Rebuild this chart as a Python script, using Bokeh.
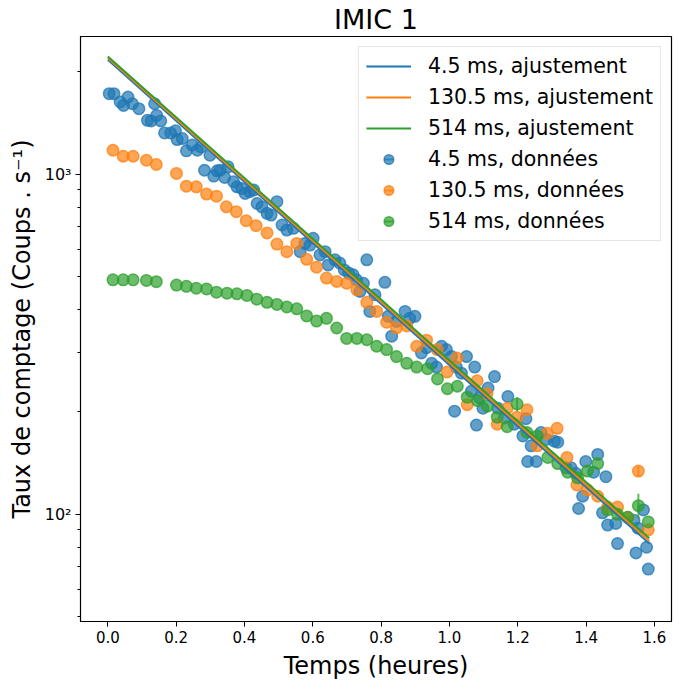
import numpy as np
from bokeh.plotting import figure
from bokeh.models import (FixedTicker, Legend, LegendItem, Range1d,
                          NumeralTickFormatter)
from bokeh.embed import file_html
from bokeh.resources import INLINE

# ---------------- data ----------------
title_text = "IMIC 1"
x_label = "Temps (heures)"
y_label = "Taux de comptage (Coups . s\u207b\u00b9)"
labels_fit = ["4.5 ms, ajustement", "130.5 ms, ajustement", "514 ms, ajustement"]
labels_data = ["4.5 ms, données", "130.5 ms, données", "514 ms, données"]
colors = ["#1f77b4", "#ff7f0e", "#2ca02c"]

x_ticks = [0.0, 0.2, 0.4, 0.6, 0.8, 1.0, 1.2, 1.4, 1.6]
y_major_ticks = [100, 1000]
y_minor_ticks = [50, 60, 70, 80, 90, 200, 300, 400, 500, 600, 700, 800, 900, 2000]
y_tick_labels = {100: "10\u00b2", 1000: "10\u00b3"}

blue_x = [0.004, 0.018, 0.036, 0.046, 0.059, 0.072, 0.091, 0.116, 0.127, 0.137,
          0.143, 0.155, 0.166, 0.184, 0.198, 0.203, 0.218, 0.230, 0.247, 0.262,
          0.273, 0.283, 0.299, 0.310, 0.320, 0.329, 0.342, 0.352, 0.368, 0.378,
          0.392, 0.402, 0.415, 0.427, 0.437, 0.451, 0.466, 0.478, 0.495, 0.510,
          0.524, 0.543, 0.563, 0.577, 0.592, 0.601, 0.621, 0.636, 0.645, 0.665,
          0.679, 0.692, 0.705, 0.718, 0.728, 0.738, 0.748, 0.758, 0.767, 0.782,
          0.811, 0.821, 0.831, 0.845, 0.870, 0.884, 0.899, 0.918, 0.933, 0.948,
          0.962, 0.977, 0.991, 1.006, 1.015, 1.020, 1.035, 1.050, 1.064, 1.074,
          1.079, 1.088, 1.098, 1.113, 1.132, 1.142, 1.161, 1.171, 1.190, 1.215,
          1.224, 1.229, 1.239, 1.254, 1.268, 1.283, 1.307, 1.317, 1.341, 1.356,
          1.370, 1.378, 1.390, 1.399, 1.422, 1.434, 1.448, 1.458, 1.463, 1.487,
          1.492, 1.540, 1.546, 1.552, 1.568, 1.577, 1.582]
blue_y = [1725, 1725, 1631, 1593, 1686, 1611, 1558, 1440, 1434, 1611,
          1489, 1434, 1322, 1322, 1341, 1264, 1273, 1171, 1218, 1176,
          1203, 1027, 1137, 987, 1023, 1027, 978, 1051, 950, 918,
          908, 878, 888, 898, 820, 802, 767, 758, 830, 709,
          685, 693, 592, 626, 619, 648, 579, 592, 541, 560,
          548, 523, 512, 506, 489, 452, 478, 560, 395, 442,
          481, 382, 334, 369, 395, 377, 382, 298, 309, 278,
          271, 312, 305, 291, 201, 271, 260, 291, 230, 271,
          183, 220, 205, 235, 254, 205, 192, 222, 184, 170,
          191, 143, 159, 143, 174, 166, 164, 163, 137, 137,
          132, 104, 113, 143, 133, 150, 101, 129, 93, 94,
          82, 96, 77, 91, 103, 80, 69]

orange_x = [0.015, 0.045, 0.074, 0.113, 0.142, 0.201, 0.230, 0.259, 0.289, 0.318,
            0.347, 0.376, 0.405, 0.434, 0.466, 0.495, 0.524, 0.553, 0.582, 0.611,
            0.640, 0.670, 0.699, 0.729, 0.758, 0.787, 0.816, 0.845, 0.875, 0.904,
            0.933, 0.964, 0.993, 1.022, 1.052, 1.081, 1.110, 1.140, 1.169, 1.198,
            1.227, 1.257, 1.286, 1.315, 1.344, 1.373, 1.404, 1.434, 1.463, 1.492,
            1.522, 1.553, 1.582]
orange_y = [1176, 1129, 1129, 1099, 1068, 1005, 922, 918, 874, 862,
            802, 776, 730, 706, 672, 623, 592, 626, 562, 533,
            495, 484, 478, 457, 420, 395, 367, 353, 358, 312,
            325, 305, 262, 288, 210, 247, 226, 184, 205, 193,
            203, 159, 173, 179, 147, 122, 118, 113, 105, 105,
            98, 134, 90]

green_x = [0.015, 0.045, 0.074, 0.113, 0.142, 0.201, 0.230, 0.259, 0.289, 0.318,
           0.349, 0.378, 0.407, 0.436, 0.466, 0.495, 0.524, 0.553, 0.582, 0.611,
           0.640, 0.670, 0.699, 0.729, 0.758, 0.787, 0.816, 0.845, 0.875, 0.904,
           0.936, 0.965, 0.994, 1.023, 1.052, 1.082, 1.111, 1.140, 1.169, 1.198,
           1.227, 1.257, 1.288, 1.317, 1.346, 1.375, 1.404, 1.434, 1.463, 1.492,
           1.522, 1.553, 1.582]
green_y = [489, 489, 489, 487, 483, 472, 468, 462, 460, 450,
           447, 445, 440, 429, 420, 414, 407, 402, 383, 370,
           377, 353, 329, 329, 326, 312, 305, 291, 278, 271,
           268, 250, 234, 238, 221, 216, 208, 193, 181, 211,
           174, 170, 147, 141, 133, 128, 134, 141, 103, 100,
           98, 106, 95]

# visible error bars
err_x = [1.198, 1.553, 1.553]
err_y = [211, 106, 134]
err_size = [10, 9, 5]
err_series = [2, 2, 1]

# fitted exponential decays (straight on log axis): end points
fit_x = [0.0, 1.585]
fit_blue = [2170, 82]
fit_orange = [2195, 83.5]
fit_green = [2220, 85]

# ---------------- figure ----------------
FONT = "DejaVu Sans"
p = figure(width=676, height=682, x_range=Range1d(-0.08, 1.65),
           y_range=Range1d(48.4, 2540), y_axis_type="log",
           output_backend="svg", toolbar_location=None, title=title_text,
           min_border_left=80, min_border_right=5, min_border_top=35,
           min_border_bottom=61)
p.background_fill_color = "white"
p.border_fill_color = "white"
p.outline_line_color = "black"
p.outline_line_width = 1.2
p.xgrid.grid_line_color = None
p.ygrid.grid_line_color = None

p.title.text_font = FONT
p.title.text_font_size = "27px"
p.title.text_font_style = "normal"
p.title.text_color = "black"
p.title.align = "center"
p.title.standoff = 3

for ax in (p.xaxis[0], p.yaxis[0]):
    ax.axis_line_color = "black"
    ax.major_tick_line_color = "black"
    ax.minor_tick_line_color = "black"
    ax.major_tick_in = 0
    ax.major_tick_out = 5
    ax.minor_tick_in = 0
    ax.minor_tick_out = 3
    ax.major_label_text_font = FONT
    ax.major_label_text_font_size = "15px"
    ax.major_label_text_color = "black"
    ax.axis_label_text_font = FONT
    ax.axis_label_text_font_size = "24px"
    ax.axis_label_text_font_style = "normal"
    ax.axis_label_text_color = "black"
    ax.major_label_standoff = 4
    ax.axis_label_standoff = 6

p.xaxis[0].ticker = FixedTicker(ticks=x_ticks)
p.xaxis[0].formatter = NumeralTickFormatter(format="0.0")
p.xaxis[0].minor_tick_line_color = None
p.xaxis[0].axis_label = x_label

p.yaxis[0].ticker = FixedTicker(ticks=y_major_ticks, minor_ticks=y_minor_ticks)
p.yaxis[0].major_label_overrides = y_tick_labels
p.yaxis[0].major_label_text_font_size = "16px"
p.yaxis[0].axis_label = y_label

series = [(blue_x, blue_y), (orange_x, orange_y), (green_x, green_y)]
fits = [fit_blue, fit_orange, fit_green]

data_renderers = []
for i, (xs, ys) in enumerate(series):
    r = p.scatter(xs, ys, size=11.5, marker="circle", fill_color=colors[i],
                  fill_alpha=0.7, line_color=colors[i], line_alpha=0.75,
                  line_width=1.5)
    data_renderers.append(r)

# error bars
for k in range(len(err_x)):
    c = colors[err_series[k]]
    p.segment(x0=[err_x[k]], y0=[err_y[k] - err_size[k]],
              x1=[err_x[k]], y1=[err_y[k] + err_size[k]],
              line_color=c, line_alpha=0.75, line_width=2)

fit_renderers = []
for i, fy in enumerate(fits):
    r = p.line(fit_x, fy, line_color=colors[i], line_width=2)
    fit_renderers.append(r)

# legend-only glyphs for error bar handles (one point outside the view)
dash_renderers = []
for i in range(3):
    r = p.scatter(x=[-5.0], y=[100.0], marker="dash", angle=np.pi / 2, size=20,
                  line_color=colors[i], line_alpha=0.75, line_width=2,
                  fill_color=None)
    dash_renderers.append(r)

items = []
for i in range(3):
    items.append(LegendItem(label=labels_fit[i], renderers=[fit_renderers[i]]))
for i in range(3):
    items.append(LegendItem(label=labels_data[i],
                            renderers=[dash_renderers[i], data_renderers[i]]))

legend = Legend(items=items, location="top_right")
legend.label_text_font = FONT
legend.label_text_font_size = "20.5px"
legend.label_text_color = "black"
legend.glyph_width = 45
legend.glyph_height = 24
legend.label_height = 24
legend.label_standoff = 17
legend.spacing = 7
legend.padding = 7
legend.margin = 10
legend.border_line_color = "#cccccc"
legend.border_line_width = 1
legend.background_fill_alpha = 0.8
p.add_layout(legend)

open("out.html", "w").write(file_html(p, INLINE))
